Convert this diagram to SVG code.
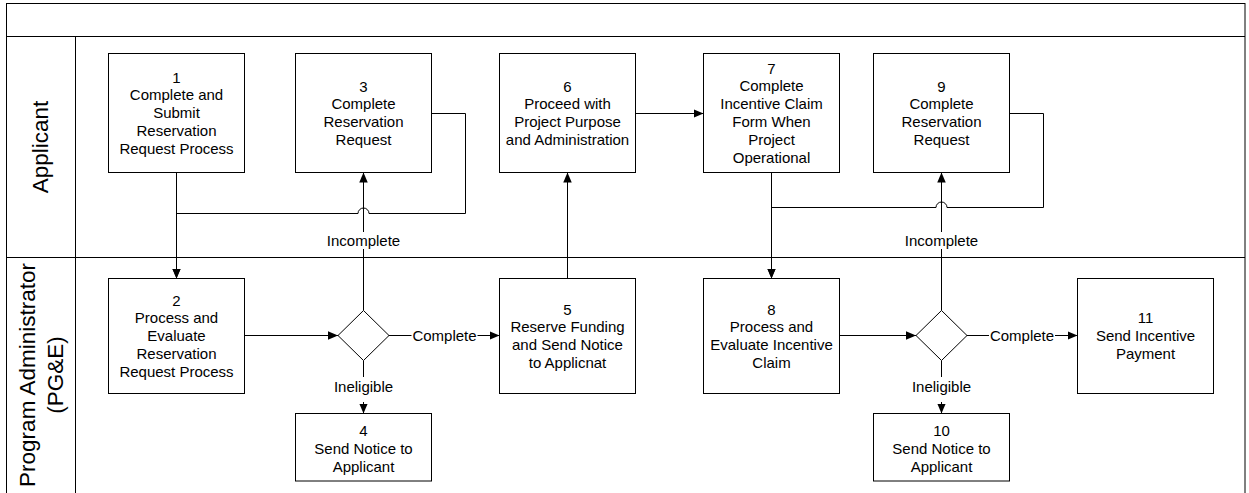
<svg xmlns="http://www.w3.org/2000/svg" width="1249" height="493" viewBox="0 0 1249 493">
<style>
.frame{fill:none;stroke:#000;stroke-width:1}
.box{fill:#fff;stroke:#000;stroke-width:1}
.t{font-family:"Liberation Sans",Arial,sans-serif;font-size:15px;text-anchor:middle;fill:#000}
.lane{font-family:"Liberation Sans",Arial,sans-serif;font-size:22.5px;text-anchor:middle;fill:#000}
.c{fill:none;stroke:#000;stroke-width:1}
.arr{marker-end:url(#ah)}
.bg{fill:#fff;stroke:none}
</style>
<defs>
<marker id="ah" markerUnits="userSpaceOnUse" markerWidth="10" markerHeight="9" refX="10" refY="4.25" orient="auto">
<path d="M0,0 L10,4.25 L0,8.5 Z" fill="#000"/>
</marker>
</defs>
<rect width="1249" height="493" fill="#fff"/>
<g id="pool">
<rect class="frame" x="6.5" y="3.5" width="1238.5" height="500"/>
<line class="frame" x1="6.5" y1="36.5" x2="1245" y2="36.5"/>
<line class="frame" x1="75.5" y1="36.5" x2="75.5" y2="500"/>
<line class="frame" x1="6.5" y1="257.5" x2="1245" y2="257.5"/>
</g>
<g id="lane-applicant">
<text class="lane" transform="translate(47.5,147) rotate(-90)">Applicant</text>
</g>
<g id="lane-admin">
<text class="lane" transform="translate(34.5,375) rotate(-90)">Program Administrator</text>
<text class="lane" transform="translate(63,375) rotate(-90)">(PG&amp;E)</text>
</g>
<g id="connectors">
<path class="c arr" d="M176.5,172.5 V278.5"/>
<path class="c arr" d="M431.5,113.5 H465.5 V213.5 H369 A5.5,5.5 0 0 0 358,213.5 H176.5 V278.5"/>
<path class="c arr" d="M244.5,335.5 H338"/>
<path class="c arr" d="M363.5,310.5 V172.5"/>
<path class="c arr" d="M389,335.5 H499.5"/>
<path class="c arr" d="M363.5,360.5 V413.5"/>
<path class="c arr" d="M567.5,278.5 V172.5"/>
<path class="c arr" d="M635.5,113.5 H703.5"/>
<path class="c arr" d="M771.5,172.5 V278.5"/>
<path class="c arr" d="M1009.5,113.5 H1043.5 V207.5 H947 A5.5,5.5 0 0 0 936,207.5 H771.5 V278.5"/>
<path class="c arr" d="M839.5,335.5 H916"/>
<path class="c arr" d="M941.5,310.5 V172.5"/>
<path class="c arr" d="M967,335.5 H1077.5"/>
<path class="c arr" d="M941.5,360.5 V413.5"/>
<g id="connector-labels">
<rect class="bg" x="326" y="232" width="75" height="17"/>
<text class="t" x="363.5" y="246.3">Incomplete</text>
<rect class="bg" x="411.5" y="327" width="66" height="17"/>
<text class="t" x="444.5" y="340.8">Complete</text>
<rect class="bg" x="333" y="377" width="61" height="25"/>
<text class="t" x="363.5" y="392.2">Ineligible</text>
<rect class="bg" x="904" y="232" width="75" height="17"/>
<text class="t" x="941.5" y="246.3">Incomplete</text>
<rect class="bg" x="989" y="327" width="66" height="17"/>
<text class="t" x="1022" y="340.8">Complete</text>
<rect class="bg" x="911" y="377" width="61" height="25"/>
<text class="t" x="941.5" y="392.2">Ineligible</text>
</g>
</g>
<g id="n1">
<rect class="box" x="108.5" y="53.5" width="136" height="119"/>
<text class="t" x="176.5" y="82.5"><tspan x="176.5">1</tspan><tspan x="176.5" dy="17.9">Complete and</tspan><tspan x="176.5" dy="17.9">Submit</tspan><tspan x="176.5" dy="17.9">Reservation</tspan><tspan x="176.5" dy="17.9">Request Process</tspan></text>
</g>
<g id="n3">
<rect class="box" x="295.5" y="53.5" width="136" height="119"/>
<text class="t" x="363.5" y="91.5"><tspan x="363.5">3</tspan><tspan x="363.5" dy="17.9">Complete</tspan><tspan x="363.5" dy="17.9">Reservation</tspan><tspan x="363.5" dy="17.9">Request</tspan></text>
</g>
<g id="n6">
<rect class="box" x="499.5" y="53.5" width="136" height="119"/>
<text class="t" x="567.5" y="91.5"><tspan x="567.5">6</tspan><tspan x="567.5" dy="17.9">Proceed with</tspan><tspan x="567.5" dy="17.9">Project Purpose</tspan><tspan x="567.5" dy="17.9">and Administration</tspan></text>
</g>
<g id="n7">
<rect class="box" x="703.5" y="53.5" width="136" height="119"/>
<text class="t" x="771.5" y="73.5"><tspan x="771.5">7</tspan><tspan x="771.5" dy="17.9">Complete</tspan><tspan x="771.5" dy="17.9">Incentive Claim</tspan><tspan x="771.5" dy="17.9">Form When</tspan><tspan x="771.5" dy="17.9">Project</tspan><tspan x="771.5" dy="17.9">Operational</tspan></text>
</g>
<g id="n9">
<rect class="box" x="873.5" y="53.5" width="136" height="119"/>
<text class="t" x="941.5" y="91.5"><tspan x="941.5">9</tspan><tspan x="941.5" dy="17.9">Complete</tspan><tspan x="941.5" dy="17.9">Reservation</tspan><tspan x="941.5" dy="17.9">Request</tspan></text>
</g>
<g id="n2">
<rect class="box" x="108.5" y="278.5" width="136" height="115"/>
<text class="t" x="176.5" y="305.5"><tspan x="176.5">2</tspan><tspan x="176.5" dy="17.9">Process and</tspan><tspan x="176.5" dy="17.9">Evaluate</tspan><tspan x="176.5" dy="17.9">Reservation</tspan><tspan x="176.5" dy="17.9">Request Process</tspan></text>
</g>
<g id="d1">
<path class="box" d="M338,335.5 L363.5,310.5 L389,335.5 L363.5,360.5 Z"/>
</g>
<g id="n4">
<rect class="box" x="295.5" y="413.5" width="136" height="67.5"/>
<text class="t" x="363.5" y="435.8"><tspan x="363.5">4</tspan><tspan x="363.5" dy="17.9">Send Notice to</tspan><tspan x="363.5" dy="17.9">Applicant</tspan></text>
</g>
<g id="n5">
<rect class="box" x="499.5" y="278.5" width="136" height="115"/>
<text class="t" x="567.5" y="314.5"><tspan x="567.5">5</tspan><tspan x="567.5" dy="17.9">Reserve Funding</tspan><tspan x="567.5" dy="17.9">and Send Notice</tspan><tspan x="567.5" dy="17.9">to Applicnat</tspan></text>
</g>
<g id="n8">
<rect class="box" x="703.5" y="278.5" width="136" height="115"/>
<text class="t" x="771.5" y="314.5"><tspan x="771.5">8</tspan><tspan x="771.5" dy="17.9">Process and</tspan><tspan x="771.5" dy="17.9">Evaluate Incentive</tspan><tspan x="771.5" dy="17.9">Claim</tspan></text>
</g>
<g id="d2">
<path class="box" d="M916,335.5 L941.5,310.5 L967,335.5 L941.5,360.5 Z"/>
</g>
<g id="n10">
<rect class="box" x="873.5" y="413.5" width="136" height="67.5"/>
<text class="t" x="941.5" y="435.8"><tspan x="941.5">10</tspan><tspan x="941.5" dy="17.9">Send Notice to</tspan><tspan x="941.5" dy="17.9">Applicant</tspan></text>
</g>
<g id="n11">
<rect class="box" x="1077.5" y="278.5" width="136" height="115"/>
<text class="t" x="1145.5" y="323"><tspan x="1145.5">11</tspan><tspan x="1145.5" dy="17.9">Send Incentive</tspan><tspan x="1145.5" dy="17.9">Payment</tspan></text>
</g>
</svg>
